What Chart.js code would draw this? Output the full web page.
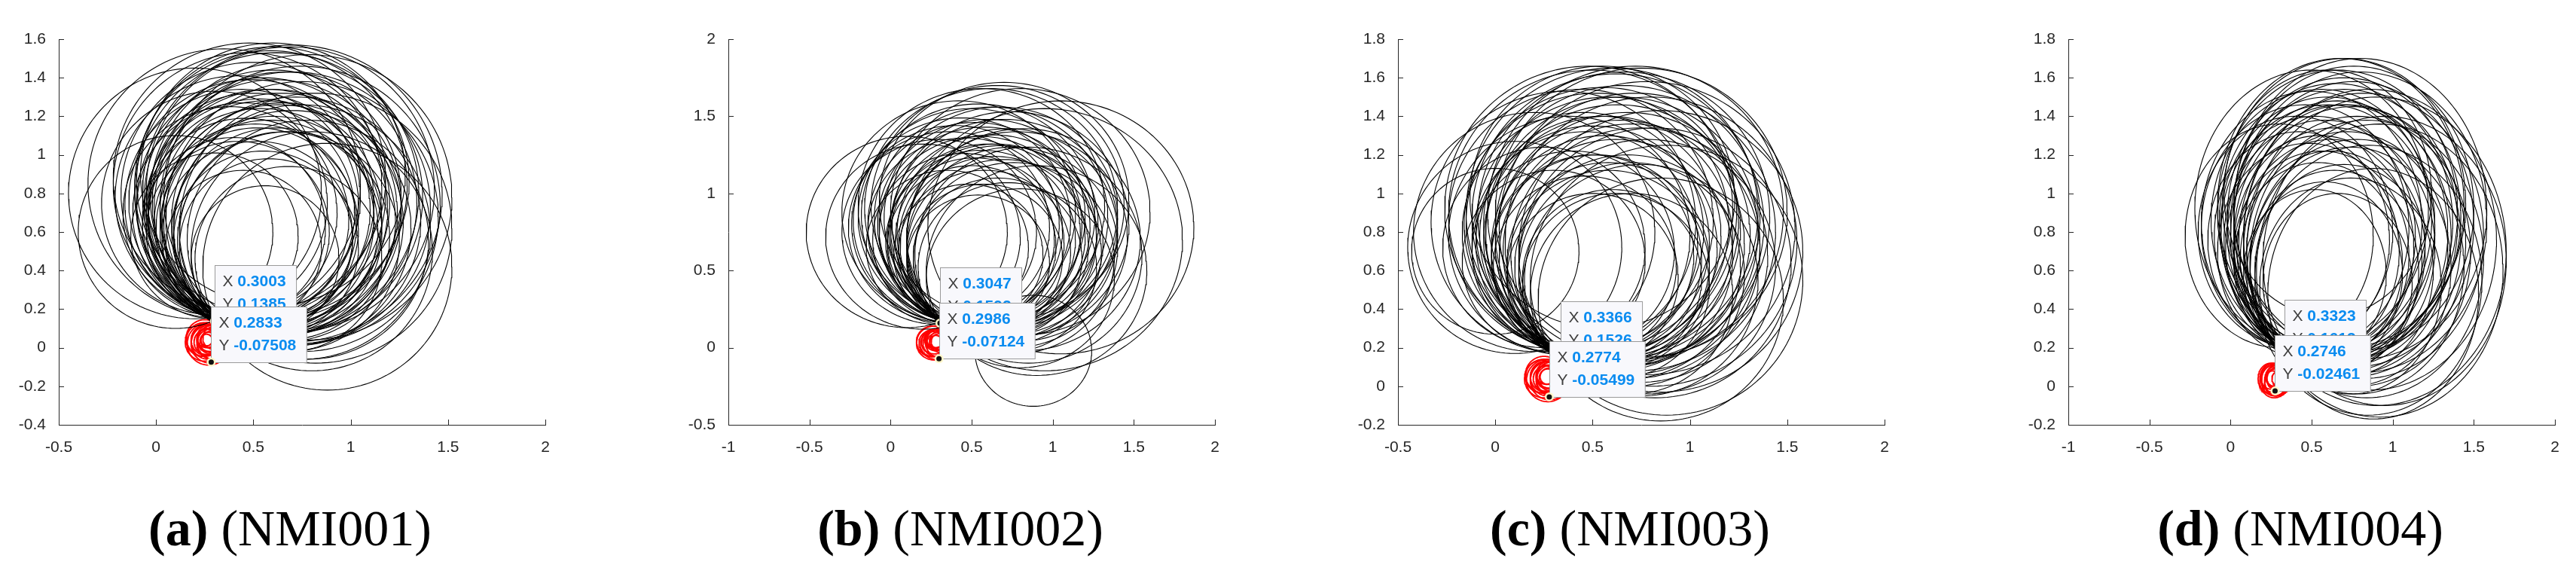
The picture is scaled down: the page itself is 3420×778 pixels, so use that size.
<!DOCTYPE html>
<html>
<head>
<meta charset="utf-8">
<script src="https://cdn.jsdelivr.net/npm/chart.js@4.4.1/dist/chart.umd.min.js"></script>
<style>
  body { margin: 0; background: #fff; width: 3420px; height: 778px; position: relative; overflow: hidden; }
  .panel { position: absolute; top: 30px; width: 746px; height: 600px; }
  .caption { position: absolute; top: 662px; font-family: "Liberation Serif", "DejaVu Serif", serif; font-size: 68px; color: #000; white-space: nowrap; transform: translateX(-50%); }
  .caption b { font-weight: bold; }
</style>
</head>
<body>
<div class="panel" style="left:8px"><canvas id="chartA"></canvas></div>
<div class="panel" style="left:897px"><canvas id="chartB"></canvas></div>
<div class="panel" style="left:1786px"><canvas id="chartC"></canvas></div>
<div class="panel" style="left:2676px"><canvas id="chartD"></canvas></div>
<div class="caption" style="left:385px"><b>(a)</b> (NMI001)</div>
<div class="caption" style="left:1275px"><b>(b)</b> (NMI002)</div>
<div class="caption" style="left:2164px"><b>(c)</b> (NMI003)</div>
<div class="caption" style="left:3054px"><b>(d)</b> (NMI004)</div>
<script>
// panel (a) NMI001 - black orbit circles: centre x, centre y, radius
const aCx = [0.55,0.60,0.50,0.65,0.45,0.58,0.70,0.52,0.62,0.40,0.75,0.48,0.68,0.56,0.45,0.70,0.30,0.20,0.82,0.88,0.80,0.35,0.60,0.66,0.54,0.62,0.50,0.42,0.75,0.58,0.64,0.52,0.70,0.46,0.60,0.10,0.78,0.56,0.68,0.30,
             0.57,0.63,0.49,0.67,0.53,0.61,0.44,0.72,0.59,0.51,0.66,0.38,0.74,0.55,0.60,0.47,0.78,0.60,0.69,0.42];
const aCy = [0.75,0.70,0.80,0.65,0.70,0.62,0.72,0.58,0.80,0.62,0.60,0.88,0.55,0.68,0.52,0.80,0.75,0.80,0.62,0.42,0.50,0.85,0.90,0.75,0.66,0.60,0.72,0.78,0.68,0.52,0.70,0.62,0.62,0.66,0.78,0.60,0.78,0.46,0.46,0.58,
             0.72,0.66,0.76,0.78,0.70,0.74,0.74,0.66,0.84,0.64,0.58,0.70,0.74,0.56,0.86,0.84,0.56,0.64,0.82,0.60];
const aR  = [0.65,0.64,0.68,0.62,0.57,0.56,0.71,0.49,0.73,0.47,0.66,0.70,0.57,0.60,0.40,0.77,0.58,0.65,0.70,0.64,0.62,0.70,0.68,0.68,0.58,0.54,0.60,0.63,0.70,0.46,0.62,0.52,0.61,0.53,0.66,0.50,0.74,0.38,0.48,0.43,
             0.62,0.60,0.63,0.70,0.59,0.65,0.60,0.64,0.70,0.52,0.54,0.55,0.72,0.46,0.70,0.69,0.62,0.56,0.74,0.47];
// red circles
const aRedCx = [0.26,0.27,0.28,0.25,0.29,0.27,0.30,0.26,0.28,0.24,0.27,0.26,0.29,0.25,0.28,0.27,0.30,0.26];
const aRedCy = [0.04,0.03,0.05,0.03,0.02,0.04,0.03,0.05,0.02,0.04,0.04,0.03,0.04,0.05,0.03,0.02,0.05,0.04];
const aRedR  = [0.08,0.09,0.07,0.10,0.08,0.06,0.09,0.05,0.10,0.085,0.04,0.065,0.075,0.095,0.055,0.11,0.06,0.03];
const aTipX = [0.3003, 0.2833];
const aTipY = [0.1385, -0.07508];

// panel (b) NMI002
const bCx = [0.60,0.55,0.65,0.50,0.70,0.45,0.58,0.75,0.62,0.40,0.30,0.20,0.10,0.85,0.95,1.05,0.70,0.80,0.52,0.66,0.48,0.72,0.60,0.68,0.56,0.78,0.42,0.35,0.90,0.80,0.64,0.54,0.88,
             0.58,0.63,0.52,0.68,0.56,0.74,0.46,0.62,0.70,0.50,0.82,0.36,0.66,0.58,0.76,0.44,0.72,0.54];
const bCy = [0.80,0.75,0.70,0.85,0.78,0.70,0.62,0.65,0.90,0.80,0.75,0.72,0.75,0.60,0.70,0.78,0.95,0.88,0.68,0.58,0.60,0.52,0.72,0.84,0.92,0.72,0.88,0.65,0.50,0.45,0.66,0.55,-0.02,
             0.78,0.74,0.80,0.68,0.70,0.80,0.76,0.84,0.62,0.66,0.70,0.78,0.92,0.58,0.58,0.82,0.74,0.86];
const bR  = [0.68,0.62,0.62,0.70,0.70,0.56,0.53,0.65,0.78,0.64,0.60,0.60,0.62,0.70,0.85,0.82,0.77,0.80,0.55,0.52,0.46,0.55,0.60,0.72,0.76,0.68,0.72,0.50,0.68,0.58,0.58,0.44,0.36,
             0.65,0.64,0.66,0.63,0.58,0.73,0.60,0.72,0.60,0.52,0.72,0.62,0.78,0.48,0.62,0.67,0.68,0.72];
const bRedCx = [0.27,0.28,0.29,0.26,0.30,0.28,0.27,0.31,0.28,0.27,0.29,0.26,0.30,0.28];
const bRedCy = [0.04,0.05,0.03,0.04,0.02,0.06,0.03,0.04,0.04,0.05,0.05,0.03,0.04,0.02];
const bRedR  = [0.08,0.07,0.09,0.10,0.08,0.06,0.11,0.07,0.04,0.055,0.065,0.085,0.05,0.095];
const bTipX = [0.3047, 0.2986];
const bTipY = [0.1592, -0.07124];

// panel (c) NMI003
const cCx = [0.60,0.55,0.65,0.50,0.70,0.45,0.62,0.80,0.75,0.35,0.20,0.10,0.25,0.00,0.85,0.88,0.85,0.75,0.58,0.52,0.68,0.66,0.48,0.58,0.72,0.40,0.62,0.50,0.78,0.55,0.30,0.70,0.64,0.46,
             0.58,0.63,0.52,0.68,0.56,0.74,0.46,0.62,0.70,0.50,0.82,0.38,0.66,0.58,0.78,0.44,0.72,0.54,0.60,0.50];
const cCy = [0.90,0.85,0.80,0.75,0.70,0.80,0.68,0.75,0.90,0.85,0.80,0.72,0.72,0.70,0.70,0.55,0.45,0.55,0.60,0.66,0.62,0.88,0.92,0.76,0.80,0.70,0.52,0.56,0.62,0.98,0.65,0.48,0.74,0.62,
             0.82,0.78,0.84,0.74,0.72,0.68,0.74,0.88,0.58,0.68,0.64,0.78,0.84,0.64,0.82,0.86,0.90,0.78,0.56,0.90];
const cR  = [0.75,0.70,0.70,0.60,0.66,0.62,0.60,0.75,0.75,0.68,0.62,0.55,0.52,0.43,0.73,0.70,0.63,0.60,0.52,0.54,0.58,0.75,0.74,0.64,0.72,0.52,0.48,0.44,0.66,0.68,0.47,0.52,0.64,0.47,
             0.68,0.68,0.68,0.68,0.58,0.66,0.58,0.74,0.58,0.52,0.70,0.62,0.72,0.52,0.76,0.68,0.76,0.62,0.46,0.74];
const cRedCx = [0.26,0.27,0.28,0.25,0.29,0.27,0.30,0.26,0.28,0.24,0.27,0.26,0.29,0.25,0.28,0.27];
const cRedCy = [0.05,0.04,0.06,0.04,0.03,0.05,0.04,0.06,0.03,0.05,0.05,0.04,0.05,0.06,0.04,0.03];
const cRedR  = [0.08,0.09,0.07,0.10,0.08,0.06,0.09,0.05,0.10,0.085,0.04,0.065,0.075,0.095,0.055,0.11];
const cTipX = [0.3366, 0.2774];
const cTipY = [0.1526, -0.05499];

// panel (d) NMI004
const dCx = [0.70,0.65,0.60,0.75,0.55,0.80,0.50,0.40,0.30,0.42,0.90,0.95,0.85,0.88,0.70,0.62,0.72,0.58,0.66,0.78,0.54,0.68,0.82,0.60,0.48,0.74,0.64,0.56,0.70,0.52,0.76,
             0.66,0.72,0.58,0.78,0.62,0.84,0.52,0.68,0.74,0.56,0.86,0.46,0.70,0.64,0.80,0.50,0.76,0.60,0.66,0.92];
const dCy = [0.95,0.85,0.80,0.75,0.72,0.85,0.85,0.80,0.78,0.76,0.70,0.65,0.55,0.48,0.60,0.66,0.70,0.58,0.90,0.62,0.64,0.78,0.78,1.00,0.70,0.52,0.72,0.86,0.84,0.58,0.92,
             0.80,0.76,0.76,0.70,0.70,0.66,0.78,0.94,0.62,0.68,0.76,0.82,0.88,0.60,0.92,0.92,0.84,0.84,0.54,0.60];
const dR  = [0.75,0.72,0.66,0.70,0.58,0.78,0.68,0.60,0.58,0.56,0.80,0.75,0.70,0.65,0.55,0.56,0.62,0.48,0.74,0.66,0.52,0.68,0.74,0.64,0.56,0.56,0.62,0.68,0.70,0.44,0.74,
             0.68,0.70,0.62,0.70,0.58,0.72,0.62,0.76,0.62,0.54,0.78,0.64,0.72,0.52,0.78,0.72,0.74,0.66,0.46,0.76];
const dRedCx = [0.26,0.27,0.28,0.25,0.28,0.27,0.29,0.26,0.28,0.27,0.25,0.29];
const dRedCy = [0.04,0.03,0.05,0.04,0.02,0.05,0.03,0.04,0.04,0.03,0.05,0.04];
const dRedR  = [0.07,0.08,0.06,0.08,0.07,0.05,0.08,0.04,0.055,0.09,0.065,0.035];
const dTipX = [0.3323, 0.2746];
const dTipY = [0.1613, -0.02461];

const SEGMENTS = 140;

function circlePoints(cx, cy, r) {
    const pts = [];
    for (let i = 0; i <= SEGMENTS; i++) {
        const t = i / SEGMENTS * Math.PI * 2;
        pts.push({ x: cx + r * Math.cos(t), y: cy + r * Math.sin(t) });
    }
    return pts;
}

function circleSets(cxs, cys, rs, color, width) {
    return cxs.map((cx, i) => ({
        data: circlePoints(cx, cys[i], rs[i]),
        showLine: true,
        borderColor: color,
        borderWidth: width,
        pointRadius: 0,
        fill: false
    }));
}

// MATLAB style inward tick marks
const innerTicks = {
    id: 'innerTicks',
    afterDraw(chart) {
        const ctx = chart.ctx;
        const xs = chart.scales.x, ys = chart.scales.y;
        ctx.save();
        ctx.strokeStyle = '#262626';
        ctx.lineWidth = 1;
        ctx.beginPath();
        xs.ticks.forEach(t => {
            const px = Math.round(xs.getPixelForValue(t.value)) + 0.5;
            ctx.moveTo(px, ys.bottom);
            ctx.lineTo(px, ys.bottom - 7);
        });
        ys.ticks.forEach(t => {
            const py = Math.round(ys.getPixelForValue(t.value)) + 0.5;
            ctx.moveTo(xs.left, py);
            ctx.lineTo(xs.left + 7, py);
        });
        ctx.stroke();
        ctx.restore();
    }
};

// data tip boxes
const dataTips = {
    id: 'dataTips',
    afterDatasetsDraw(chart, args, opts) {
        const ctx = chart.ctx;
        const xs = chart.scales.x, ys = chart.scales.y;
        ctx.save();
        opts.x.forEach((tx, i) => {
            const ty = opts.y[i];
            const px = xs.getPixelForValue(tx), py = ys.getPixelForValue(ty);
            const xv = String(tx), yv = String(ty);
            ctx.font = 'bold 21px "Liberation Sans", Arial, sans-serif';
            const vw = Math.max(ctx.measureText(xv).width, ctx.measureText(yv).width);
            ctx.font = '21px "Liberation Sans", Arial, sans-serif';
            const lw = ctx.measureText('X ').width;
            const w = vw + lw + 24, h = 74;
            const bx = Math.round(px) + 0.5, by = Math.round(py - h) + 0.5;
            ctx.fillStyle = '#f8f8fc';
            ctx.strokeStyle = '#9a9a9a';
            ctx.lineWidth = 1;
            ctx.fillRect(bx, by, w, h);
            ctx.strokeRect(bx, by, w, h);
            ctx.textBaseline = 'middle';
            ctx.fillStyle = '#404040';
            ctx.fillText('X', bx + 10, by + 22);
            ctx.fillText('Y', bx + 10, by + 52);
            ctx.font = 'bold 21px "Liberation Sans", Arial, sans-serif';
            ctx.fillStyle = '#0a8cf0';
            ctx.fillText(xv, bx + 10 + lw, by + 22);
            ctx.fillText(yv, bx + 10 + lw, by + 52);
            // marker
            ctx.beginPath();
            ctx.arc(px, py, 6, 0, Math.PI * 2);
            ctx.fillStyle = '#fff6c8';
            ctx.fill();
            ctx.beginPath();
            ctx.arc(px, py, 3.5, 0, Math.PI * 2);
            ctx.fillStyle = '#111';
            ctx.fill();
        });
        ctx.restore();
    }
};

function makeChart(id, black, red, tipX, tipY, xMin, yMin, yMax, yStep) {
    const datasets = circleSets(black[0], black[1], black[2], '#000', 1.1)
        .concat(circleSets(red[0], red[1], red[2], '#ff0000', 1.8));
    const tickFont = { family: '"Liberation Sans", Arial, sans-serif', size: 21 };
    const fmt = v => String(Math.round(v * 10) / 10);
    return new Chart(document.getElementById(id), {
        type: 'scatter',
        data: { datasets: datasets },
        options: {
            responsive: true,
            maintainAspectRatio: false,
            animation: false,
            layout: { padding: { top: 22, right: 30, left: 0, bottom: 0 } },
            plugins: { legend: { display: false }, tooltip: { enabled: false }, dataTips: { x: tipX, y: tipY } },
            scales: {
                x: {
                    type: 'linear', min: xMin, max: 2,
                    ticks: { stepSize: 0.5, color: '#262626', font: tickFont, padding: 10, maxRotation: 0, callback: fmt },
                    grid: { display: false },
                    border: { display: true, color: '#262626' },
                    afterFit: s => { s.height = 66; }
                },
                y: {
                    type: 'linear', min: yMin, max: yMax,
                    ticks: { stepSize: yStep, color: '#262626', font: tickFont, padding: 9, callback: fmt },
                    grid: { display: false },
                    border: { display: true, color: '#262626' },
                    afterFit: s => { s.width = 70; }
                }
            }
        },
        plugins: [innerTicks, dataTips]
    });
}

makeChart('chartA', [aCx, aCy, aR], [aRedCx, aRedCy, aRedR], aTipX, aTipY, -0.5, -0.4, 1.6, 0.2);
makeChart('chartB', [bCx, bCy, bR], [bRedCx, bRedCy, bRedR], bTipX, bTipY, -1, -0.5, 2, 0.5);
makeChart('chartC', [cCx, cCy, cR], [cRedCx, cRedCy, cRedR], cTipX, cTipY, -0.5, -0.2, 1.8, 0.2);
makeChart('chartD', [dCx, dCy, dR], [dRedCx, dRedCy, dRedR], dTipX, dTipY, -1, -0.2, 1.8, 0.2);
</script>
</body>
</html>
